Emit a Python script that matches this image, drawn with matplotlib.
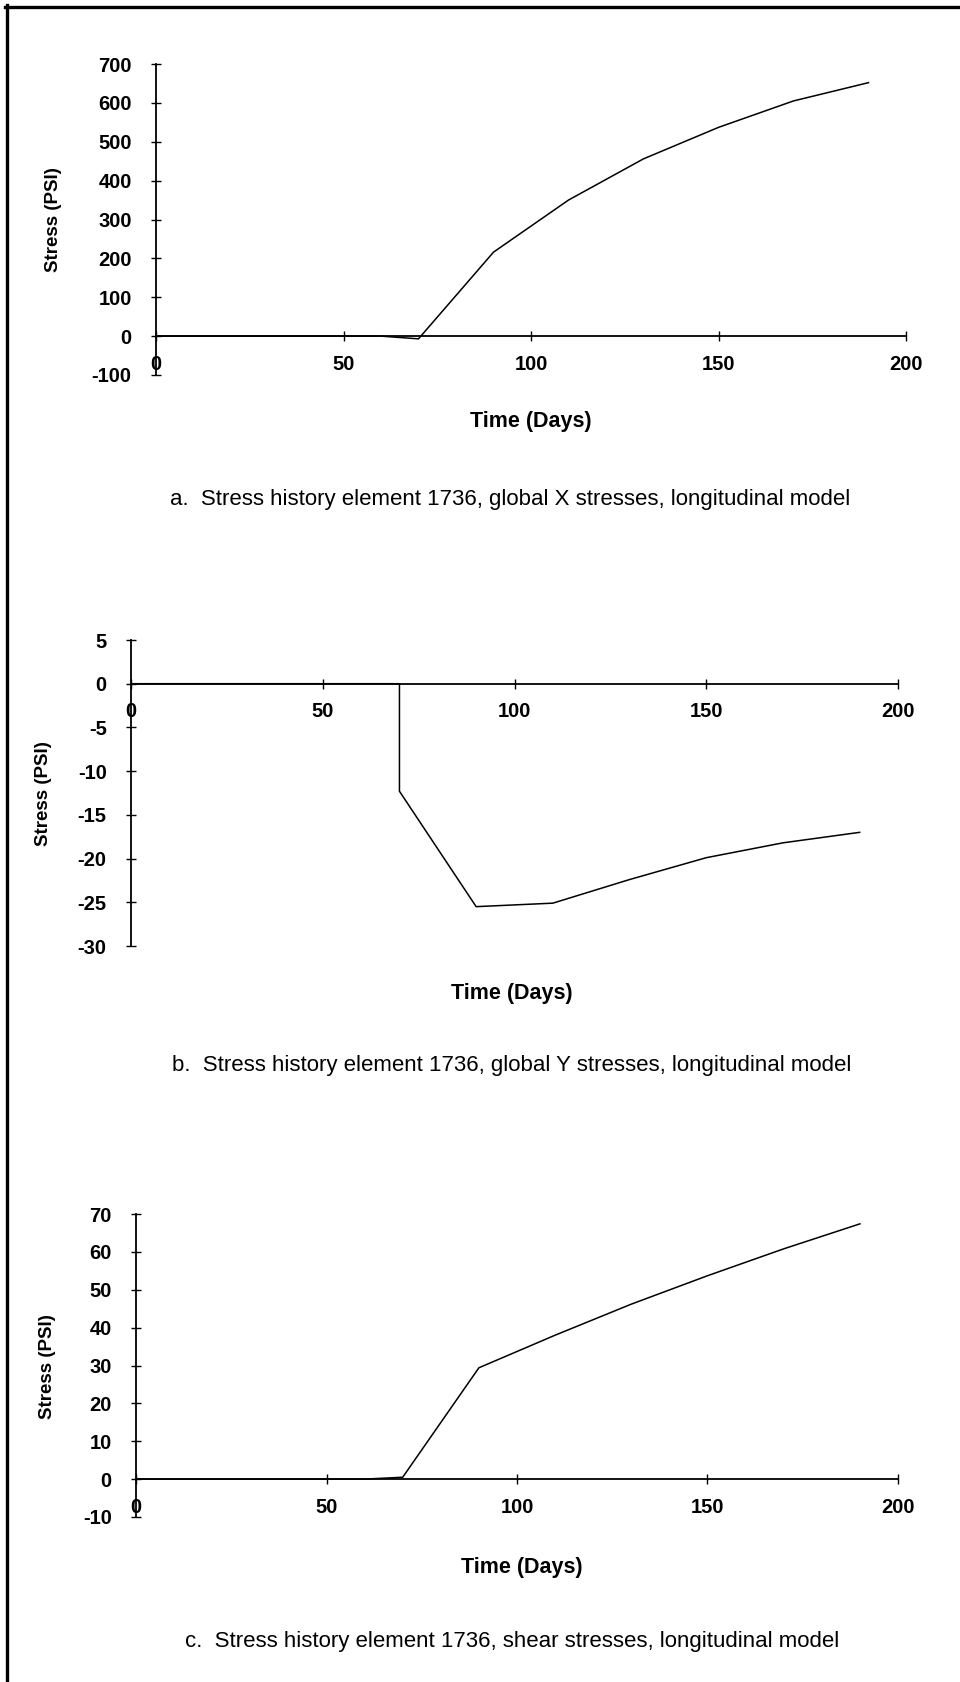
"""
Stress history plots for element 1736 (longitudinal model), three stacked panels.
"""
import matplotlib as mpl
mpl.use("Agg")
import matplotlib.pyplot as plt
from matplotlib.lines import Line2D

plt.rcParams["font.family"] = ["Liberation Sans", "DejaVu Sans"]
plt.rcParams["axes.unicode_minus"] = False

# Time steps (days)
days_a = [0, 10, 20, 30, 40, 50, 60, 70, 90, 110, 130, 150, 170, 190]
stress_x = [0, 0, 0, 0, 0, 0, 0, -7, 216, 350, 456, 537, 605, 652]

days_b = [0, 10, 20, 30, 40, 50, 60, 70, 70, 90, 110, 130, 150, 170, 190]
stress_y = [0, 0, 0, 0, 0, 0, 0, 0, -12.3, -25.5, -25.1, -22.4, -19.9, -18.2, -17.0]

days_c = [0, 10, 20, 30, 40, 50, 60, 70, 90, 110, 130, 150, 170, 190]
stress_shear = [0, 0, 0, 0, 0, 0, 0, 0.5, 29.4, 38.0, 46.2, 53.7, 60.8, 67.4]

x_ticks = [0, 50, 100, 150, 200]
yticks_a = [-100, 0, 100, 200, 300, 400, 500, 600, 700]
yticks_b = [-30, -25, -20, -15, -10, -5, 0, 5]
yticks_c = [-10, 0, 10, 20, 30, 40, 50, 60, 70]

caption_a = "a.  Stress history element 1736, global X stresses, longitudinal model"
caption_b = "b.  Stress history element 1736, global Y stresses, longitudinal model"
caption_c = "c.  Stress history element 1736, shear stresses, longitudinal model"

W, H = 960, 1682
fig = plt.figure(figsize=(W / 100, H / 100), dpi=100)


def px_axes(left, right, top, bottom):
    # axes box given in figure pixels measured from the top-left corner
    return fig.add_axes([left / W, 1 - bottom / H, (right - left) / W, (bottom - top) / H])


def fig_text(x, y, s, **kw):
    fig.text(x / W, 1 - y / H, s, ha="center", va="center", **kw)


def stress_panel(box, days, vals, yticks, ylab_xy, xlab_xy, cap_xy, caption):
    ax = px_axes(*box)
    ax.plot(days, vals, color="black", lw=1.1, clip_on=False)
    ax.set_xlim(0, 200)
    ax.set_ylim(yticks[0], yticks[-1])
    ax.set_xticks(x_ticks)
    ax.set_yticks(yticks)
    ax.spines["top"].set_visible(False)
    ax.spines["right"].set_visible(False)
    ax.spines["bottom"].set_position(("data", 0))
    for sp in ("left", "bottom"):
        ax.spines[sp].set_linewidth(1.3)
    ax.tick_params(axis="x", direction="inout", length=7, width=1, pad=10, labelsize=14.5)
    ax.tick_params(axis="y", direction="inout", length=7, width=1, pad=14, labelsize=14.5)
    for lab in ax.get_xticklabels() + ax.get_yticklabels():
        lab.set_fontweight("bold")
    fig_text(*ylab_xy, "Stress (PSI)", rotation=90, fontsize=13.5, fontweight="bold")
    fig_text(*xlab_xy, "Time (Days)", fontsize=15.5, fontweight="bold")
    fig_text(*cap_xy, caption, fontsize=16)
    return ax


stress_panel((156, 906, 64, 375), days_a, stress_x, yticks_a,
             (54, 220), (531, 421), (510, 500), caption_a)
stress_panel((131, 898, 640, 946), days_b, stress_y, yticks_b,
             (43, 794), (512, 994), (512, 1065), caption_b)
stress_panel((136, 898, 1214, 1517), days_c, stress_shear, yticks_c,
             (47, 1367), (522, 1567), (512, 1641), caption_c)

# page frame (top and left edges only)
fig.add_artist(Line2D([5 / W, 1], [1 - 6.5 / H, 1 - 6.5 / H], color="black", lw=2.4))
fig.add_artist(Line2D([6.5 / W, 6.5 / W], [0, 1 - 5 / H], color="black", lw=2.4))

fig.savefig("out.png", dpi=100)
plt.close(fig)
